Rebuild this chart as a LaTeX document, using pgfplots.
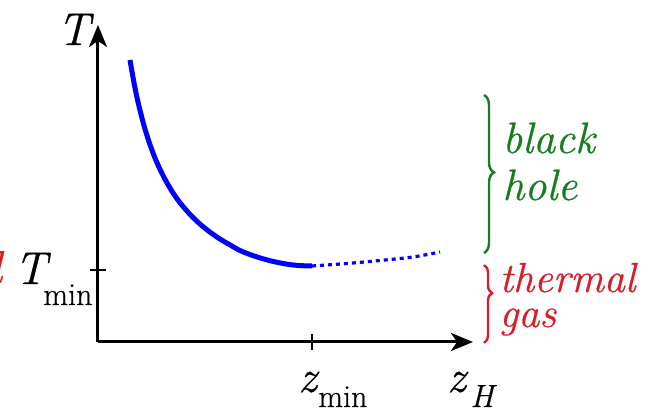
\documentclass[border=0pt]{standalone}
\usepackage{pgfplots}
\pgfplotsset{compat=1.18}
\usepackage{fontspec}
\setmainfont{Latin Modern Roman}[FakeBold=0.6]
\usetikzlibrary{arrows.meta,decorations.pathreplacing}
\definecolor{bhgreen}{RGB}{20,125,30}
\definecolor{tgred}{RGB}{215,30,40}
\begin{document}
\begin{tikzpicture}
\begin{axis}[
  x=0.5pt, y=0.5pt,
  xmin=0, xmax=375, ymin=0, ymax=317,
  axis lines=left,
  axis line style={line width=1.5pt, -{Stealth[length=11pt,width=9pt,inset=3pt]}},
  xtick={214}, ytick={72},
  xticklabels={}, yticklabels={},
  tick align=center,
  major tick length=8pt,
  tick style={line width=1.3pt, black},
  clip=false,
]
\addplot[blue, line width=2.5pt, smooth] coordinates {
(32,282) (36,259.2) (40,240) (46,216.4) (52,197.3) (58,181.6) (66,164.6) (74,150.7) (82,139.3) (92,127.6) (102,117.9) (112,109.9) (122,103) (132,97.1) (142,91.5) (152,87.5) (162,84.1) (172,81.3) (182,79.1) (192,77.4) (202,76.4) (214,76)};
\addplot[blue, line width=1.6pt, smooth, dash pattern=on 2pt off 2pt] coordinates {
(214,76) (249,78.5) (282,81.5) (315,85) (342,90)};
\path (axis cs:-98,-69) rectangle (axis cs:550,342);
\node[anchor=base west, inner sep=0pt, font=\fontsize{23}{26}\selectfont\itshape] at (axis cs:-41,297) {T};
\node[anchor=base west, inner sep=0pt, font=\fontsize{23}{26}\selectfont\itshape] at (axis cs:-84,58) {T};
\node[anchor=base west, inner sep=0pt, font=\fontsize{16}{18}\selectfont] at (axis cs:-55,37) {min};
\node[overlay, anchor=base west, inner sep=0pt, text=tgred, font=\fontsize{23}{26}\selectfont\itshape] at (axis cs:-108,59) {l};
\node[anchor=base west, inner sep=0pt, font=\fontsize{23}{26}\selectfont\itshape] at (axis cs:200,-50) {z};
\node[anchor=base west, inner sep=0pt, font=\fontsize{16}{18}\selectfont] at (axis cs:220,-65) {min};
\node[anchor=base west, inner sep=0pt, font=\fontsize{23}{26}\selectfont\itshape] at (axis cs:349,-50) {z};
\node[anchor=base west, inner sep=0pt, font=\fontsize{16}{18}\selectfont\itshape] at (axis cs:372,-65) {H};
\draw[bhgreen, line width=1.2pt, decorate, decoration={brace, amplitude=5pt, aspect=0.49}] (axis cs:386,247) -- (axis cs:386,89);
\draw[tgred, line width=1.2pt, decorate, decoration={brace, amplitude=4pt, aspect=0.36}] (axis cs:386,77) -- (axis cs:386,-1);
\node[anchor=base west, inner sep=0pt, text=bhgreen, font=\fontsize{22}{26}\selectfont\itshape] at (axis cs:404,189) {black};
\node[anchor=base west, inner sep=0pt, text=bhgreen, font=\fontsize{22}{26}\selectfont\itshape] at (axis cs:404,142) {hole};
\node[anchor=base west, inner sep=0pt, text=tgred, font=\fontsize{21}{26}\selectfont\itshape] at (axis cs:401,50) {thermal};
\node[anchor=base west, inner sep=0pt, text=tgred, font=\fontsize{21}{26}\selectfont\itshape] at (axis cs:401,15) {gas};
\end{axis}
\end{tikzpicture}
\end{document}
